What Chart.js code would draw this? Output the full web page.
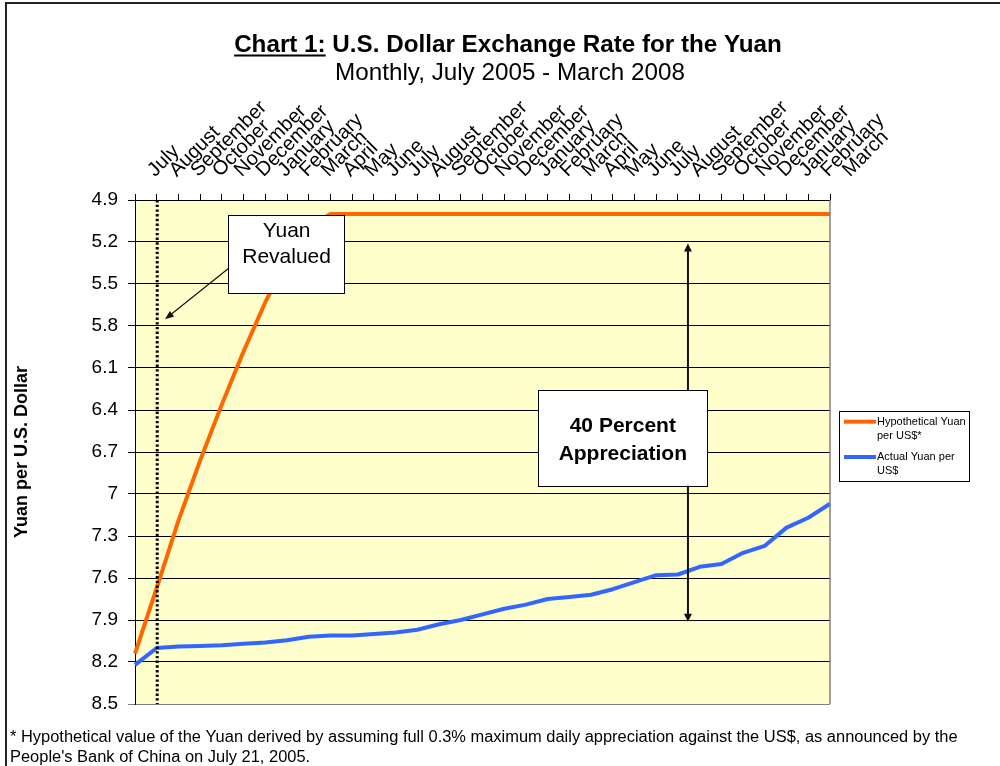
<!DOCTYPE html>
<html><head><meta charset="utf-8">
<script src="https://cdn.jsdelivr.net/npm/chart.js@4"></script>
<style>html,body{margin:0;padding:0;background:#fff}#wrap{width:1000px;height:766px;position:relative}</style>
</head><body><div id="wrap"><canvas id="c" width="1000" height="766"></canvas></div>
<script>
// ---- data ----
const months = ['July','August','September','October','November','December','January','February','March','April','May','June',
  'July','August','September','October','November','December','January','February','March','April','May','June',
  'July','August','September','October','November','December','January','February','March'];
const hypotheticalYuan = [8.14, 7.67, 7.19, 6.76, 6.36, 5.98, 5.63, 5.33, 5.10,
  5.0, 5.0, 5.0, 5.0, 5.0, 5.0, 5.0, 5.0, 5.0, 5.0, 5.0, 5.0, 5.0, 5.0, 5.0,
  5.0, 5.0, 5.0, 5.0, 5.0, 5.0, 5.0, 5.0, 5.0];
const actualYuan = [8.22, 8.10, 8.09, 8.085, 8.08, 8.07, 8.06, 8.045, 8.02, 8.01, 8.01, 8.00,
  7.99, 7.97, 7.93, 7.90, 7.86, 7.82, 7.79, 7.75, 7.735, 7.72, 7.68, 7.63,
  7.58, 7.575, 7.52, 7.50, 7.42, 7.37, 7.24, 7.17, 7.07];
const yTickLabels = ['4.9','5.2','5.5','5.8','6.1','6.4','6.7','7','7.3','7.6','7.9','8.2','8.5'];
const seriesNames = ['Hypothetical Yuan per US$*', 'Actual Yuan per US$'];
const titleUnderlined = 'Chart 1:';
const titleRest = ' U.S. Dollar Exchange Rate for the Yuan';
const subtitleText = 'Monthly, July 2005 - March 2008';
const yAxisTitle = 'Yuan per U.S. Dollar';
const revaluedLines = ['Yuan', 'Revalued'];
const appreciationLines = ['40 Percent', 'Appreciation'];
const footnoteLines = [
  '* Hypothetical value of the Yuan derived by assuming full 0.3% maximum daily appreciation against the US$, as announced by the',
  "People's Bank of China on July 21, 2005."
];
const revaluationIndex = 1;

// ---- styling ----
const FONT = "'Liberation Sans', Arial, sans-serif";
Chart.defaults.font.family = FONT;
Chart.defaults.color = '#000';

function arrowHead(ctx, x1, y1, x2, y2, len, half) {
  const a = Math.atan2(y2 - y1, x2 - x1);
  ctx.beginPath();
  ctx.moveTo(x2, y2);
  ctx.lineTo(x2 - len * Math.cos(a) + half * Math.sin(a), y2 - len * Math.sin(a) - half * Math.cos(a));
  ctx.lineTo(x2 - len * Math.cos(a) - half * Math.sin(a), y2 - len * Math.sin(a) + half * Math.cos(a));
  ctx.closePath();
  ctx.fill();
}
function fitFont(ctx, text, weight, target, maxSize) {
  ctx.font = weight + ' 100px ' + FONT;
  const w = ctx.measureText(text).width;
  return Math.min(maxSize, 100 * target / w);
}
function textBox(ctx, X, Y, box, lines, font, centerIdx, baselines) {
  const x0 = X(box[0]), x1 = X(box[1]), y0 = Y(box[2]), y1 = Y(box[3]);
  ctx.fillStyle = '#fff';
  ctx.fillRect(x0, y0, x1 - x0, y1 - y0);
  ctx.strokeStyle = '#000';
  ctx.lineWidth = 1;
  ctx.strokeRect(Math.round(x0) + 0.5, Math.round(y0) + 0.5, Math.round(x1 - x0), Math.round(y1 - y0));
  ctx.fillStyle = '#000';
  ctx.font = font;
  ctx.textAlign = 'center';
  ctx.textBaseline = 'alphabetic';
  lines.forEach((t, k) => ctx.fillText(t, X(centerIdx), Y(baselines[k])));
}

const decor = {
  id: 'decor',
  beforeDraw(chart) {
    const { ctx, chartArea: a } = chart;
    ctx.save();
    ctx.fillStyle = '#fff';
    ctx.fillRect(0, 0, chart.width, chart.height);
    ctx.fillStyle = '#FFFFCC';
    ctx.fillRect(a.left, a.top, a.right - a.left, a.bottom - a.top);
    ctx.restore();
  },
  afterDatasetsDraw(chart) {
    const { ctx, chartArea: a } = chart;
    const xs = chart.scales.x, ys = chart.scales.y;
    const X = v => xs.getPixelForValue(v), Y = v => ys.getPixelForValue(v);
    ctx.save();
    // right border of plot
    ctx.strokeStyle = '#808080';
    ctx.lineWidth = 1.5;
    ctx.beginPath();
    ctx.moveTo(a.right, a.top); ctx.lineTo(a.right, a.bottom);
    ctx.stroke();
    // revaluation dotted line
    ctx.strokeStyle = '#000';
    ctx.lineWidth = 3;
    ctx.setLineDash([2.4, 2.3]);
    ctx.beginPath();
    const dx = X(revaluationIndex) + 0.5;
    ctx.moveTo(dx, a.top); ctx.lineTo(dx, a.bottom);
    ctx.stroke();
    ctx.setLineDash([]);
    // 40 percent double arrow
    ctx.strokeStyle = '#111'; ctx.fillStyle = '#111';
    ctx.lineWidth = 2;
    const ax = X(25.46), ay0 = Y(5.21), ay1 = Y(7.912);
    ctx.beginPath(); ctx.moveTo(ax, ay0 + 6); ctx.lineTo(ax, ay1 - 6); ctx.stroke();
    arrowHead(ctx, ax, ay1, ax, ay0, 8, 4);
    arrowHead(ctx, ax, ay0, ax, ay1, 8, 4);
    // Yuan revalued arrow
    ctx.lineWidth = 1.2;
    const r0x = X(4.37), r0y = Y(5.381), r1x = X(1.38), r1y = Y(5.752);
    ctx.beginPath(); ctx.moveTo(r0x, r0y); ctx.lineTo(r1x + 5, r1y - 4); ctx.stroke();
    arrowHead(ctx, r0x, r0y, r1x, r1y, 9, 3.5);
    // boxes
    textBox(ctx, X, Y, [4.28, 9.62, 5.007, 5.565], revaluedLines, '21px ' + FONT, 6.98, [5.161, 5.35]);
    textBox(ctx, X, Y, [18.57, 26.35, 6.257, 6.941], appreciationLines, 'bold 21px ' + FONT, 22.46, [6.555, 6.757]);
    ctx.restore();
  },
  afterDraw(chart) {
    const { ctx } = chart;
    ctx.save();
    // outer frame
    ctx.strokeStyle = '#222';
    ctx.lineWidth = 2;
    ctx.beginPath();
    ctx.moveTo(6, 766); ctx.lineTo(6, 3); ctx.lineTo(1000, 3);
    ctx.stroke();
    // title
    const full = titleUnderlined + titleRest;
    const ts = fitFont(ctx, full, 'bold', 548, 30);
    ctx.font = 'bold ' + ts + 'px ' + FONT;
    const tw = ctx.measureText(full).width;
    const uw = ctx.measureText(titleUnderlined).width;
    const tx = 508 - tw / 2;
    ctx.fillStyle = '#000';
    ctx.textAlign = 'left';
    ctx.textBaseline = 'alphabetic';
    ctx.fillText(full, tx, 52);
    ctx.fillRect(tx, 54.5, uw, 2);
    const ss = fitFont(ctx, subtitleText, '', 350, 30);
    ctx.font = ss + 'px ' + FONT;
    ctx.textAlign = 'center';
    ctx.fillText(subtitleText, 510, 80);
    // legend
    ctx.fillStyle = '#fff';
    ctx.fillRect(839, 411.5, 130, 70);
    ctx.strokeStyle = '#000'; ctx.lineWidth = 1;
    ctx.strokeRect(839.5, 411.5, 130, 70);
    ctx.font = '11px ' + FONT;
    ctx.textAlign = 'left';
    ctx.textBaseline = 'middle';
    const rows = [421.7, 457];
    chart.data.datasets.forEach((ds, k) => {
      ctx.strokeStyle = ds.borderColor; ctx.lineWidth = 4; ctx.lineCap = 'butt';
      ctx.beginPath(); ctx.moveTo(844, rows[k]); ctx.lineTo(876, rows[k]); ctx.stroke();
      const words = ds.label.split(' ');
      const lines = []; let cur = '';
      words.forEach(w => {
        const t = cur ? cur + ' ' + w : w;
        if (ctx.measureText(t).width > 90 && cur) { lines.push(cur); cur = w; } else cur = t;
      });
      lines.push(cur);
      ctx.fillStyle = '#000';
      lines.forEach((l, j) => ctx.fillText(l, 877, rows[k] + j * 13.8));
    });
    // footnote
    const fs = fitFont(ctx, footnoteLines[0], '', 948, 18);
    ctx.font = fs + 'px ' + FONT;
    ctx.textBaseline = 'alphabetic';
    ctx.fillStyle = '#000';
    ctx.fillText(footnoteLines[0], 10, 742);
    ctx.fillText(footnoteLines[1], 10, 762);
    ctx.restore();
  }
};

new Chart(document.getElementById('c'), {
  type: 'line',
  data: {
    labels: months,
    datasets: [
      { label: seriesNames[0], data: hypotheticalYuan, borderColor: '#FF6600', backgroundColor: '#FF6600',
        borderWidth: 4, pointRadius: 0, tension: 0, borderJoinStyle: 'round', fill: false },
      { label: seriesNames[1], data: actualYuan, borderColor: '#3366FF', backgroundColor: '#3366FF',
        borderWidth: 4, pointRadius: 0, tension: 0, borderJoinStyle: 'round', fill: false }
    ]
  },
  options: {
    responsive: false,
    devicePixelRatio: 1,
    animation: false,
    events: [],
    layout: { padding: { left: 5, right: 170, top: 100, bottom: 62 } },
    plugins: { legend: { display: false }, title: { display: false }, tooltip: { enabled: false } },
    scales: {
      x: {
        type: 'category',
        position: 'top',
        offset: false,
        afterFit: s => { s.height = 100; },
        grid: { display: true, drawOnChartArea: false, drawTicks: true, tickLength: 6, color: '#000', lineWidth: 1 },
        border: { display: true, color: '#000', width: 1 },
        ticks: { autoSkip: false, maxRotation: 45, minRotation: 45, padding: 12, labelOffset: 33,
          font: { size: 20 }, color: '#000' }
      },
      y: {
        reverse: true,
        min: 4.9, max: 8.5,
        afterFit: s => { s.width = 130; },
        ticks: { stepSize: 0.3, padding: 10, font: { size: 19 }, color: '#000',
          callback: v => yTickLabels.find(t => Math.abs(parseFloat(t) - v) < 1e-6) ?? '' },
        grid: { drawTicks: true, tickLength: 7, lineWidth: 1,
          color: c => (c.tick && Math.abs(c.tick.value - 8.5) < 1e-6) ? '#808080' : '#000' },
        border: { display: true, color: '#000', width: 1 },
        title: { display: true, text: yAxisTitle, font: { size: 18, weight: 'bold' }, color: '#000',
          padding: { top: 6, bottom: 0 } }
      }
    }
  },
  plugins: [decor]
});
</script>
</body></html>
